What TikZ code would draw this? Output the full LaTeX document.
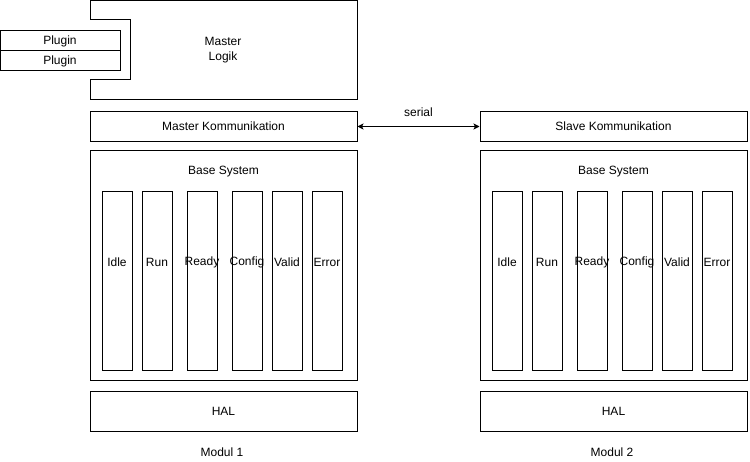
\documentclass[tikz,border=0pt]{standalone}
\usepackage{fontspec}
\setmainfont{Liberation Sans}
\usetikzlibrary{arrows.meta}
\begin{document}
\begin{tikzpicture}[x=1pt, y=-1pt, font=\fontsize{12}{14}\selectfont, line width=1pt, >={Stealth[length=6pt, width=6pt, inset=1.5pt]},
  box/.style={draw, minimum width=267pt, minimum height=30pt, inner sep=0pt},
  col/.style={draw, minimum width=30pt, minimum height=179pt, inner sep=0pt},
  plugin/.style={draw, minimum width=120pt, minimum height=20pt, inner sep=0pt}]
\useasboundingbox (0,0) rectangle (750,462);
% master logic with the plugin slot
\draw (90,1) -- (357,1) -- (357,100) -- (90,100) -- (90,80) -- (130,80) -- (130,20) -- (90,20) -- cycle;
\node[align=center] (logik) at (223,50) {Master\\[1pt]Logik};
\node[plugin] (plugin1) at (60,41) {Plugin};
\node[plugin] (plugin2) at (60,61) {Plugin};
% communication
\node[box] (mkomm) at (223.5,126.5) {Master Kommunikation};
\node[box] (skomm) at (613.5,126.5) {Slave Kommunikation};
\draw[<->] (mkomm.east) -- (skomm.west) node[midway, yshift=14pt]{serial};
% the two modules
\foreach \m/\dx in {1/0, 2/390} {
  \node[box, minimum height=230pt] (base\m) at (223.5+\dx,266) {};
  \node (basetitle\m) at (223.5+\dx,172) {Base System};
  \foreach \n/\cx in {Idle/117, Run/157, Ready/202, Config/247, Valid/287, Error/327}
    \node[col, label={[yshift=19pt]center:\n}] (\n\m) at (\cx+\dx,281) {};
  \node[box, minimum height=40pt] (hal\m) at (223.5+\dx,411.5) {HAL};
  \node (modul\m) at (222+\dx,452) {Modul \m};
}
\end{tikzpicture}
\end{document}
